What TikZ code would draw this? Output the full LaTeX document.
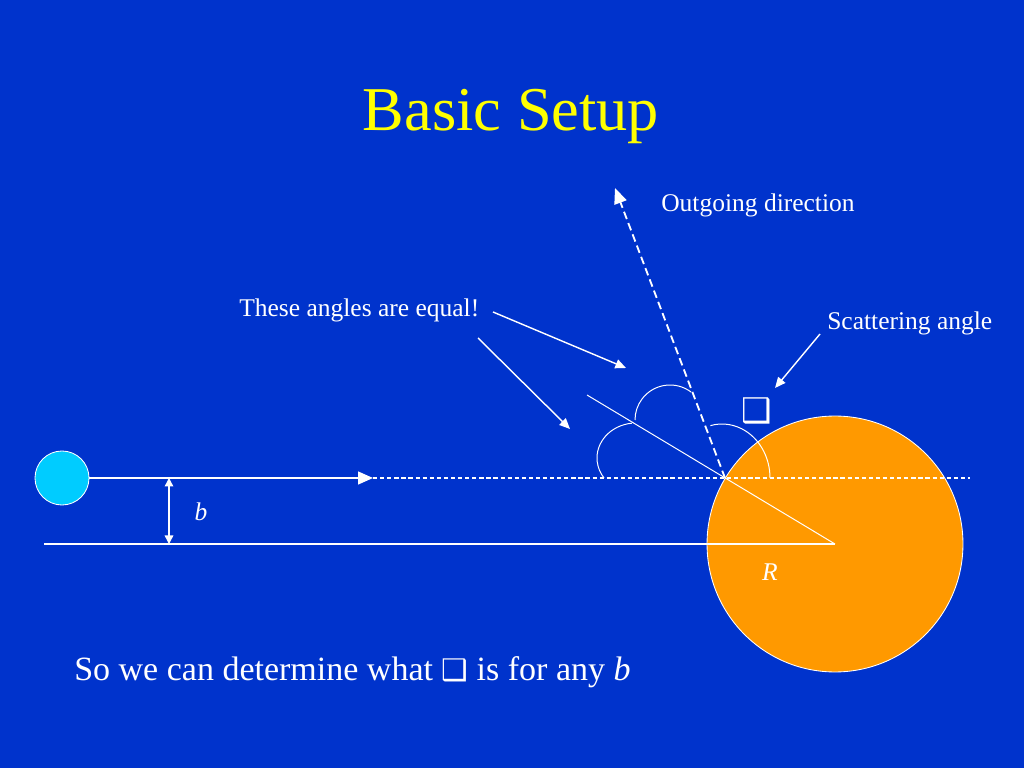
\documentclass[tikz,border=0pt]{standalone}
\usepackage{fontspec}
\setmainfont{Liberation Serif}
\newfontfamily\dingfont{DejaVu Sans}
\usetikzlibrary{arrows.meta}
\definecolor{slideblue}{RGB}{0,51,204}
\definecolor{targetorange}{RGB}{255,153,0}
\definecolor{ballcyan}{RGB}{0,204,255}
\definecolor{titleyellow}{RGB}{255,255,0}

\begin{document}
\begin{tikzpicture}[x=0.0248047cm, y=0.0248047cm,
    ray/.style={white, line width=1.3pt},
    guide/.style={white, line width=0.7pt},
    pointer/.style={white, line width=1pt, -{Triangle[length=7.5pt,width=6.5pt]}},
    lbl/.style={text=white, inner sep=0pt, font=\fontsize{18}{20}\selectfont}]
      \fill[slideblue] (0,0) rectangle (1024,768);
      \useasboundingbox (0,0) rectangle (1024,768);

      \node[anchor=base, text=titleyellow, inner sep=0pt, font=\fontsize{44}{50}\selectfont] (title) at (511,637) {Basic Setup};

      % target and projectile
      \node[circle, fill=targetorange, draw=white, line width=0.6pt, minimum size=6.35cm, inner sep=0pt] (target) at (835,224) {};
      \node[circle, fill=ballcyan, draw=white, line width=0.6pt, minimum size=1.34cm, inner sep=0pt] (ball) at (62,290) {};

      \coordinate (hit)    at (725,290);
      \coordinate (inend)  at (373,290);
      \coordinate (farend) at (970,290);
      \coordinate (axis)   at (44,224);
      \coordinate (rim)    at (587,373);
      \coordinate (outtip) at (615,580);
      \coordinate (btop)   at (169,290);
      \coordinate (bbot)   at (169,224);

      \draw[ray, -{Triangle[length=10.5pt,width=9pt]}] (ball.east) -- (inend);
      \draw[guide, line width=0.9pt, dash pattern=on 3pt off 2pt] (inend) -- (farend);
      \draw[guide, line width=0.8pt] (axis) -- (target.center);
      \draw[guide] (target.center) -- (rim);
      \draw[ray, dash pattern=on 5.5pt off 3pt, -{Triangle[length=11pt,width=9pt]}] (hit) -- (outtip);
      \draw[guide, line width=1pt, {Triangle[length=6pt,width=6pt]}-{Triangle[length=6pt,width=6pt]}] (btop) -- (bbot);

      % angle arcs
      \draw[guide] (636,310) ++(96:39 and 35) arc[start angle=96, end angle=215, x radius=39, y radius=35];
      \draw[guide] (670,348) ++(53:35) arc[start angle=53, end angle=180, radius=35];
      \draw[guide] (722,290) ++(0:48 and 54) arc[start angle=0, end angle=104, x radius=48, y radius=54];

      % labels
      \node[lbl, anchor=base west] (outdir) at (661,556) {Outgoing direction};
      \node[lbl, anchor=base west] (equal)  at (239,451) {These angles are equal!};
      \node[lbl, anchor=base west] (scat)   at (827,438) {Scattering angle};
      \node[lbl, anchor=base] (blabel) at (201,247) {\textit{b}};
      \node[lbl, anchor=base] (rlabel) at (770,187) {\textit{R}};
      \node[text=white, inner sep=0pt, font=\dingfont\fontsize{24}{26}\selectfont] (theta) at (757,357) {❑};

      \coordinate (eqA)    at (493,456);
      \coordinate (eqtipA) at (626,400);
      \coordinate (eqB)    at (478,430);
      \coordinate (eqtipB) at (570,339);
      \coordinate (scA)    at (820,434);
      \coordinate (sctip)  at (775,380);
      \draw[pointer] (eqA) -- (eqtipA);
      \draw[pointer] (eqB) -- (eqtipB);
      \draw[pointer] (scA) -- (sctip);

      \node[text=white, anchor=base west, inner sep=0pt, font=\fontsize{24}{28}\selectfont] (summary) at (74,88) {So we can determine what {\dingfont\fontsize{21}{24}\selectfont ❑} is for any \textit{b}};
\end{tikzpicture}
\end{document}
